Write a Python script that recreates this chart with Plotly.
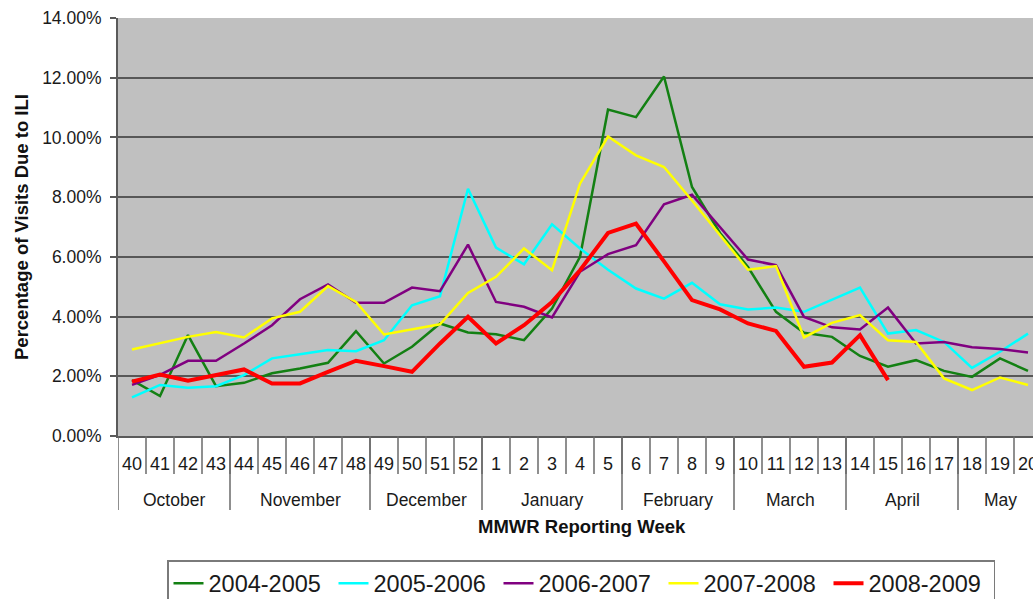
import plotly.graph_objects as go

# ---------------- data ----------------
weeks = [40, 41, 42, 43, 44, 45, 46, 47, 48, 49, 50, 51, 52,
         1, 2, 3, 4, 5, 6, 7, 8, 9, 10, 11, 12, 13, 14, 15, 16, 17, 18, 19, 20]

months = ["October", "November", "December", "January", "February", "March", "April", "May"]
month_week_counts = [4, 5, 4, 5, 4, 4, 4, 3]

season_2004_2005 = [1.87, 1.34, 3.38, 1.67, 1.78, 2.10, 2.26, 2.45, 3.51, 2.43, 2.99, 3.77, 3.47,
                    3.41, 3.21, 4.27, 6.00, 10.93, 10.68, 12.04, 8.34, 6.80, 5.66, 4.16, 3.46, 3.32,
                    2.68, 2.32, 2.54, 2.18, 1.98, 2.60, 2.18]
season_2005_2006 = [1.29, 1.71, 1.62, 1.67, 2.04, 2.60, 2.74, 2.88, 2.84, 3.21, 4.38, 4.68, 8.28,
                    6.31, 5.75, 7.09, 6.28, 5.57, 4.94, 4.60, 5.13, 4.41, 4.24, 4.30, 4.16, 4.57,
                    4.97, 3.43, 3.55, 3.15, 2.28, 2.82, 3.43]
season_2006_2007 = [1.71, 2.05, 2.52, 2.52, 3.10, 3.71, 4.58, 5.08, 4.46, 4.46, 4.97, 4.85, 6.41,
                    4.49, 4.33, 3.97, 5.50, 6.09, 6.39, 7.76, 8.08, 7.00, 5.91, 5.72, 3.99, 3.64,
                    3.57, 4.30, 3.10, 3.15, 2.97, 2.91, 2.80]
season_2007_2008 = [2.90, 3.10, 3.32, 3.48, 3.30, 3.94, 4.16, 5.02, 4.49, 3.40, 3.57, 3.74, 4.79,
                    5.33, 6.28, 5.55, 8.45, 10.03, 9.40, 9.01, 7.89, 6.72, 5.57, 5.69, 3.30, 3.79,
                    4.05, 3.21, 3.15, 1.93, 1.54, 1.96, 1.71]
season_2008_2009 = [1.82, 2.06, 1.85, 2.04, 2.23, 1.76, 1.76, 2.15, 2.52, 2.34, 2.15, 3.10, 3.99,
                    3.10, 3.71, 4.49, 5.55, 6.80, 7.11, 5.85, 4.55, 4.24, 3.77, 3.52, 2.32, 2.46,
                    3.38, 1.87, None, None, None, None, None]

series_names = ["2004-2005", "2005-2006", "2006-2007", "2007-2008", "2008-2009"]
series_values = [season_2004_2005, season_2005_2006, season_2006_2007, season_2007_2008, season_2008_2009]
series_colors = ["#138013", "#00FFFF", "#800080", "#FFFF00", "#FF0000"]
series_widths = [2.5, 2.5, 2.5, 2.5, 4]

y_ticks = [0, 2, 4, 6, 8, 10, 12, 14]

# ---------------- figure ----------------
idx = list(range(len(weeks)))
fig = go.Figure()
for name, vals, col, w in zip(series_names, series_values, series_colors, series_widths):
    fig.add_trace(go.Scatter(x=idx, y=vals, mode="lines", name=name,
                             line=dict(color=col, width=w), connectgaps=False))

FONT = "Liberation Sans, Arial, sans-serif"
W, H = 1033, 599
ML, MT, MB = 118, 18, 163
plot_h = H - MT - MB


def py(px_below_axis):
    """paper y for a pixel distance below the x axis"""
    return -px_below_axis / plot_h


shapes = []
# week separators
for i in range(1, len(weeks)):
    shapes.append(dict(type="line", xref="x", yref="paper", x0=i - 0.5, x1=i - 0.5,
                       y0=0, y1=py(38), line=dict(color="#6a6a6a", width=1.5)))
# month separators
start = 0
month_centers = []
for m, n in zip(months, month_week_counts):
    shapes.append(dict(type="line", xref="x", yref="paper", x0=start - 0.5, x1=start - 0.5,
                       y0=0, y1=py(74), line=dict(color="#6a6a6a", width=1.5)))
    month_centers.append(start + (n - 1) / 2)
    start += n

annotations = []
for m, c in zip(months, month_centers):
    annotations.append(dict(x=c, y=py(64), xref="x", yref="paper", text=m, showarrow=False,
                            xanchor="center", yanchor="middle",
                            font=dict(family=FONT, size=17.5, color="#1a1a1a")))
annotations.append(dict(x=(582 - ML) / (W - ML), y=py(90), xref="paper", yref="paper",
                        text="<b>MMWR Reporting Week</b>", showarrow=False,
                        xanchor="center", yanchor="middle",
                        font=dict(family=FONT, size=18.5, color="#111111")))
annotations.append(dict(x=(21 - ML) / (W - ML), y=0.5, xref="paper", yref="paper",
                        text="<b>Percentage of Visits Due to ILI</b>", showarrow=False,
                        textangle=-90, xanchor="center", yanchor="middle",
                        font=dict(family=FONT, size=18.5, color="#111111")))

cat_px = 28.0
x_max = -0.5 + (W - ML) / cat_px

fig.update_layout(
    width=W, height=H,
    margin=dict(l=ML, r=0, t=MT, b=MB, autoexpand=False),
    paper_bgcolor="white",
    plot_bgcolor="#C0C0C0",
    font=dict(family=FONT, color="#1a1a1a"),
    shapes=shapes,
    annotations=annotations,
    showlegend=True,
    legend=dict(orientation="h", x=(167 - ML) / (W - ML), xanchor="left",
                y=py(560 - 436), yanchor="top",
                font=dict(family=FONT, size=23.5, color="#1a1a1a"),
                bgcolor="white", bordercolor="#7a7a7a", borderwidth=1.5,
                entrywidth=120, entrywidthmode="pixels", itemwidth=30),
    xaxis=dict(range=[-0.5, x_max], tickmode="array", tickvals=idx,
               ticktext=[str(w) for w in weeks], ticks="", showgrid=False, zeroline=False,
               showline=True, linecolor="#5a5a5a", linewidth=2, automargin=False,
               tickfont=dict(family=FONT, size=18, color="#1a1a1a"),
               ticklabelstandoff=10, ticklabeloverflow="allow"),
    yaxis=dict(range=[0, 14], tickmode="array", tickvals=y_ticks,
               ticktext=[f"{v:.2f}%" for v in y_ticks],
               ticks="outside", ticklen=6, tickcolor="#5a5a5a", tickwidth=1.5,
               showgrid=True, gridcolor="#575757", gridwidth=2, zeroline=False,
               showline=True, linecolor="#5a5a5a", linewidth=2, automargin=False,
               tickfont=dict(family=FONT, size=17.5, color="#1a1a1a"),
               ticklabelstandoff=5),
)

fig.write_html("out.html",
               config={"displayModeBar": False},
               post_script="document.body.style.margin='0px';document.body.style.overflow='hidden';")
